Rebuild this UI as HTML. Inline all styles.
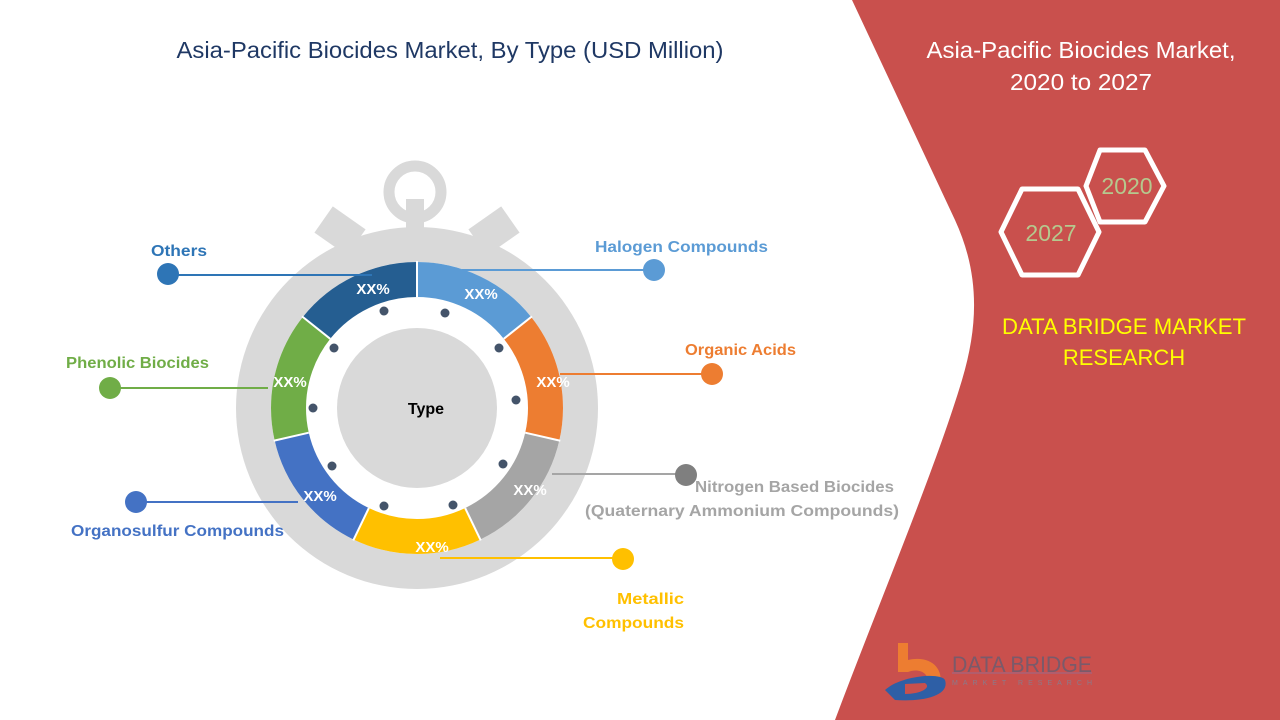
<!DOCTYPE html>
<html><head><meta charset="utf-8"><style>
html,body{margin:0;padding:0;background:#fff;}
svg{display:block;font-family:"Liberation Sans",sans-serif;}
</style></head><body>
<svg width="1280" height="720" viewBox="0 0 1280 720" xmlns="http://www.w3.org/2000/svg">
<rect width="1280" height="720" fill="#fff"/>
<!-- red panel -->
<path d="M852,0 L1280,0 L1280,720 L835,720 C880,600 935,470 962,380 C980,320 978,270 955,220 L852,0 Z" fill="#c9504d"/>
<text x="450" y="58" font-size="23" fill="#1f3864" text-anchor="middle" textLength="547" lengthAdjust="spacingAndGlyphs">Asia-Pacific Biocides Market, By Type (USD Million)</text>
<text x="1081" y="58" font-size="23" fill="#fff" text-anchor="middle" textLength="309" lengthAdjust="spacingAndGlyphs">Asia-Pacific Biocides Market,</text>
<text x="1081" y="90" font-size="23" fill="#fff" text-anchor="middle" textLength="142" lengthAdjust="spacingAndGlyphs">2020 to 2027</text>
<!-- hexagons -->
<polygon points="1100,150 1145,150 1164,186 1145,222 1100,222 1086,186" fill="none" stroke="#fff" stroke-width="5" stroke-linejoin="round"/>
<polygon points="1022,189 1078,189 1099,232 1078,275 1022,275 1001,232" fill="none" stroke="#fff" stroke-width="5" stroke-linejoin="round"/>
<text x="1127" y="194" font-size="23" fill="#b5c98e" text-anchor="middle">2020</text>
<text x="1051" y="241" font-size="23" fill="#b5c98e" text-anchor="middle">2027</text>
<text x="1124" y="334" font-size="22" fill="#ffff00" text-anchor="middle" textLength="244" lengthAdjust="spacingAndGlyphs">DATA BRIDGE MARKET</text>
<text x="1124" y="365" font-size="22" fill="#ffff00" text-anchor="middle">RESEARCH</text>
<!-- logo -->
<path d="M898,643 L908,643 L908,660 C930,655 944,668 940,685 L928,685 C930,672 918,668 908,672 L898,672 Z" fill="#ed7d31"/>
<path d="M885,690 C900,676 940,672 945,680 C950,695 925,702 895,700 Z" fill="#2e5fa6"/>
<path d="M905,684 L925,683 C932,688 920,694 905,694 Z" fill="#c9504d"/>
<text x="952" y="672" font-size="22" fill="#7a5a6a" textLength="140" lengthAdjust="spacingAndGlyphs">DATA BRIDGE</text>
<line x1="952" y1="673" x2="1092" y2="673" stroke="#9a6a8a" stroke-width="1"/>
<text x="952" y="685" font-size="7" fill="#8a7a8a" textLength="140" lengthAdjust="spacing">MARKET RESEARCH</text>
<!-- stopwatch -->
<circle cx="415" cy="192" r="26" fill="none" stroke="#d9d9d9" stroke-width="11"/>
<rect x="406" y="199" width="18" height="45" fill="#d9d9d9"/>
<rect x="320" y="215" width="40" height="32" fill="#d9d9d9" transform="rotate(35 340 231)"/>
<rect x="474" y="215" width="40" height="32" fill="#d9d9d9" transform="rotate(-35 494 231)"/>
<circle cx="417" cy="408" r="181" fill="#d9d9d9"/>
<circle cx="417" cy="408" r="146" fill="#fff"/>
<g transform="rotate(-90 417 408)" fill="none" stroke-width="35">
<circle cx="417" cy="408" r="128.5" stroke="#5b9bd5" stroke-dasharray="115.34 692.05" stroke-dashoffset="0"/>
<circle cx="417" cy="408" r="128.5" stroke="#ed7d31" stroke-dasharray="115.34 692.05" stroke-dashoffset="-115.34"/>
<circle cx="417" cy="408" r="128.5" stroke="#a5a5a5" stroke-dasharray="115.34 692.05" stroke-dashoffset="-230.68"/>
<circle cx="417" cy="408" r="128.5" stroke="#ffc000" stroke-dasharray="115.34 692.05" stroke-dashoffset="-346.02"/>
<circle cx="417" cy="408" r="128.5" stroke="#4472c4" stroke-dasharray="115.34 692.05" stroke-dashoffset="-461.36"/>
<circle cx="417" cy="408" r="128.5" stroke="#70ad47" stroke-dasharray="115.34 692.05" stroke-dashoffset="-576.70"/>
<circle cx="417" cy="408" r="128.5" stroke="#255e91" stroke-dasharray="115.34 692.05" stroke-dashoffset="-692.04"/>
</g>
<g stroke="#fff" stroke-width="2">
<line x1="417" y1="297" x2="417" y2="261" transform="rotate(0 417 408)"/>
<line x1="417" y1="297" x2="417" y2="261" transform="rotate(51.43 417 408)"/>
<line x1="417" y1="297" x2="417" y2="261" transform="rotate(102.86 417 408)"/>
<line x1="417" y1="297" x2="417" y2="261" transform="rotate(154.29 417 408)"/>
<line x1="417" y1="297" x2="417" y2="261" transform="rotate(205.71 417 408)"/>
<line x1="417" y1="297" x2="417" y2="261" transform="rotate(257.14 417 408)"/>
<line x1="417" y1="297" x2="417" y2="261" transform="rotate(308.57 417 408)"/>
</g>
<circle cx="417" cy="408" r="80" fill="#d9d9d9"/>
<g fill="#44546a">
<circle cx="384" cy="311" r="4.5"/><circle cx="445" cy="313" r="4.5"/>
<circle cx="499" cy="348" r="4.5"/><circle cx="516" cy="400" r="4.5"/>
<circle cx="503" cy="464" r="4.5"/><circle cx="453" cy="505" r="4.5"/>
<circle cx="384" cy="506" r="4.5"/><circle cx="332" cy="466" r="4.5"/>
<circle cx="313" cy="408" r="4.5"/><circle cx="334" cy="348" r="4.5"/>
</g>
<text x="426" y="414" font-size="16" font-weight="bold" fill="#000" text-anchor="middle">Type</text>
<!-- connectors -->
<g stroke-width="2">
<line x1="168" y1="275" x2="372" y2="275" stroke="#2e75b6"/>
<line x1="462" y1="270" x2="654" y2="270" stroke="#5b9bd5"/>
<line x1="560" y1="374" x2="712" y2="374" stroke="#ed7d31"/>
<line x1="552" y1="474" x2="686" y2="474" stroke="#a5a5a5"/>
<line x1="440" y1="558" x2="623" y2="558" stroke="#ffc000"/>
<line x1="136" y1="502" x2="298" y2="502" stroke="#4472c4"/>
<line x1="110" y1="388" x2="268" y2="388" stroke="#70ad47"/>
</g>
<circle cx="168" cy="274" r="11" fill="#2e75b6"/>
<circle cx="654" cy="270" r="11" fill="#5b9bd5"/>
<circle cx="712" cy="374" r="11" fill="#ed7d31"/>
<circle cx="686" cy="475" r="11" fill="#7f7f7f"/>
<circle cx="623" cy="559" r="11" fill="#ffc000"/>
<circle cx="136" cy="502" r="11" fill="#4472c4"/>
<circle cx="110" cy="388" r="11" fill="#70ad47"/>
<!-- percentages -->
<g font-size="15" font-weight="bold" fill="#fff" text-anchor="middle">
<text x="373" y="294">XX%</text>
<text x="481" y="299">XX%</text>
<text x="553" y="387">XX%</text>
<text x="530" y="495">XX%</text>
<text x="432" y="552">XX%</text>
<text x="320" y="501">XX%</text>
<text x="290" y="387">XX%</text>
</g>
<!-- labels -->
<g font-size="16" font-weight="bold" lengthAdjust="spacingAndGlyphs">
<text x="151" y="256" fill="#2e75b6" textLength="56" lengthAdjust="spacingAndGlyphs">Others</text>
<text x="595" y="252" fill="#5b9bd5" textLength="173" lengthAdjust="spacingAndGlyphs">Halogen Compounds</text>
<text x="685" y="355" fill="#ed7d31" textLength="111" lengthAdjust="spacingAndGlyphs">Organic Acids</text>
<text x="66" y="368" fill="#70ad47" textLength="143" lengthAdjust="spacingAndGlyphs">Phenolic Biocides</text>
<text x="695" y="492" fill="#a5a5a5" textLength="199" lengthAdjust="spacingAndGlyphs">Nitrogen Based Biocides</text>
<text x="585" y="516" fill="#a5a5a5" textLength="314" lengthAdjust="spacingAndGlyphs">(Quaternary Ammonium Compounds)</text>
<text x="71" y="536" fill="#4472c4" textLength="213" lengthAdjust="spacingAndGlyphs">Organosulfur Compounds</text>
<text x="617" y="604" fill="#ffc000" textLength="67" lengthAdjust="spacingAndGlyphs">Metallic</text>
<text x="583" y="628" fill="#ffc000" textLength="101" lengthAdjust="spacingAndGlyphs">Compounds</text>
</g>
</svg>
</body></html>
